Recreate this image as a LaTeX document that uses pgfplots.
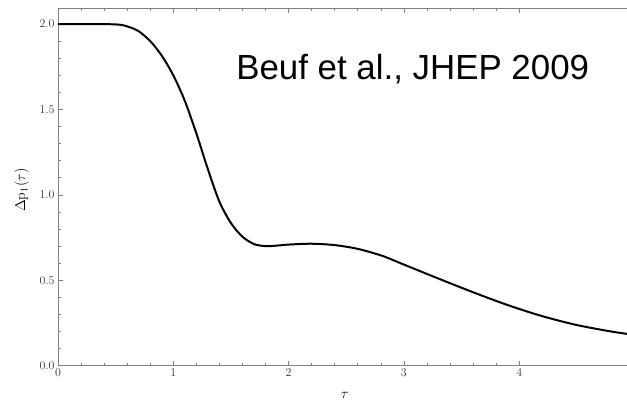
\documentclass[border=0pt]{standalone}
\usepackage{pgfplots}
\pgfplotsset{compat=1.18}
\usepackage{fontspec}
\newfontfamily\helv{Liberation Sans}

\begin{document}
\begin{tikzpicture}
\begin{axis}[
    name=ax,
    scale only axis,
    width=569bp, height=357.7bp,
    xmin=0, xmax=4.935, ymin=0, ymax=2.094,
    axis y line*=left,
    xtick={0,1,2,3,4}, minor x tick num=4,
    ytick={0,0.5,1,1.5,2}, minor y tick num=4,
    tick align=inside,
    major tick length=5bp, minor tick length=3bp,
    axis line style={black!50, line width=0.8bp},
    every tick/.style={black!50, line width=0.6bp},
    tick label style={font=\fontsize{12}{13}\selectfont, text=black!80},
    yticklabel style={/pgf/number format/.cd, fixed, fixed zerofill, precision=1},
    xlabel={$\tau$},
    xlabel style={at={(axis description cs:0.504,-0.082)}, anchor=center, font=\fontsize{14}{16}\selectfont},
    ylabel={$\Delta\mathrm{p}_1(\tau)$},
    ylabel style={at={(axis description cs:-0.064,0.491)}, anchor=center, font=\fontsize{14}{16}\selectfont},
]
\addplot[black, line width=2bp, smooth, tension=0.5] coordinates {
    (0,2.0) (0.3,2.0) (0.45,1.999) (0.55,1.995) (0.62,1.982) (0.7,1.958)
    (0.8,1.90) (0.9,1.815) (1.0,1.70) (1.1,1.55) (1.2,1.36) (1.3,1.15)
    (1.4,0.96) (1.5,0.835) (1.6,0.755) (1.7,0.712) (1.8,0.700) (1.9,0.703)
    (2.0,0.709) (2.2,0.714) (2.4,0.706) (2.6,0.684) (2.8,0.646) (2.9,0.620)
    (3.0,0.592) (3.3,0.51) (3.6,0.43) (3.9,0.355) (4.2,0.29) (4.5,0.238)
    (4.8,0.20) (4.95,0.185)
};
\node[anchor=base west, inner sep=0pt, font=\helv\fontsize{35}{40}\selectfont]
    at (axis description cs:0.313,0.8015) {Beuf et al., JHEP 2009};
\end{axis}
\pgfresetboundingbox
\path (ax.south west) ++(-58bp,-34.3bp) rectangle ++(627bp,400bp);
\end{tikzpicture}
\end{document}
